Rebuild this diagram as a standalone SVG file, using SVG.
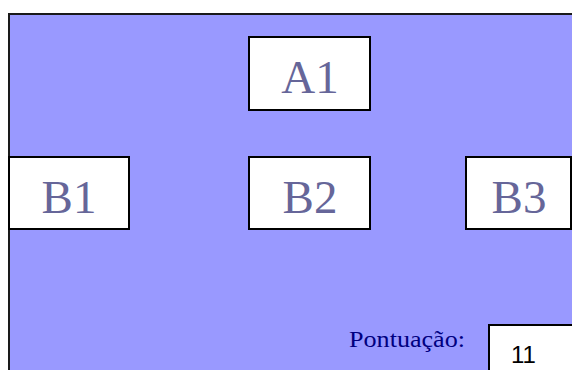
<svg xmlns="http://www.w3.org/2000/svg" width="572" height="370" viewBox="0 0 572 370">
  <style>
    .panel { fill: #9999ff; stroke: #1a1a1a; stroke-width: 2; }
    .box { fill: #ffffff; stroke: #000000; stroke-width: 2; }
    .lbl { font-family: "Liberation Serif", "Times New Roman", serif; font-size: 47px; fill: #666699; text-anchor: middle; }
    .caption { font-family: "Liberation Serif", "Times New Roman", serif; font-size: 24px; fill: #000080; }
    .score { font-family: "Liberation Sans", Arial, sans-serif; font-size: 24px; fill: #000000; }
  </style>
  <rect width="572" height="370" fill="#ffffff"/>
  <rect class="panel" x="9" y="14" width="570" height="370"/>
  <g id="connectors"></g>
  <g id="A1">
    <rect class="box" x="249" y="37" width="121" height="73"/>
    <text class="lbl" x="310" y="93">A1</text>
  </g>
  <g id="B1">
    <rect class="box" x="9" y="157" width="120" height="72"/>
    <text class="lbl" x="69" y="213">B1</text>
  </g>
  <g id="B2">
    <rect class="box" x="249" y="157" width="121" height="72"/>
    <text class="lbl" x="310" y="213">B2</text>
  </g>
  <g id="B3">
    <rect class="box" x="466" y="157" width="105" height="72"/>
    <text class="lbl" x="519" y="213">B3</text>
  </g>
  <g id="score">
    <text class="caption" x="349" y="347" textLength="116" lengthAdjust="spacingAndGlyphs">Pontuação:</text>
    <rect class="box" x="489" y="325" width="90" height="60"/>
    <text class="score" x="511" y="363">11</text>
  </g>
</svg>
